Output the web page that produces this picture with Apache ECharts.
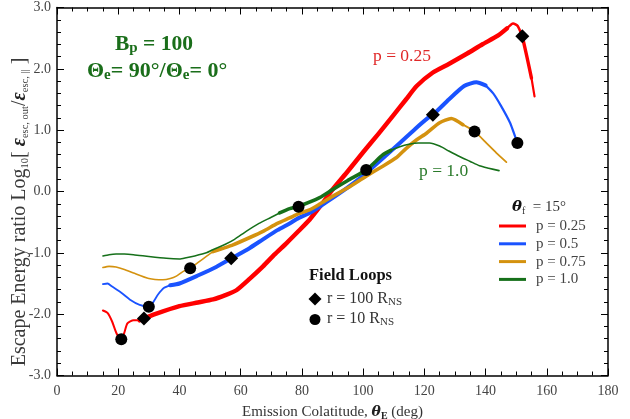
<!DOCTYPE html>
<html><head><meta charset="utf-8">
<script src="https://cdn.jsdelivr.net/npm/echarts@6/dist/echarts.min.js"></script>
<style>html,body{margin:0;padding:0;background:#fff}#c{width:630px;height:419px}</style>
</head><body><div id="c"></div>
<script>
// ---- data ----
const curveNames = ['p = 0.25', 'p = 0.5', 'p = 0.75', 'p = 1.0'];
const p025 = [[15,-1.94],[16.5,-1.98],[18,-2.12],[19.5,-2.32],[21,-2.41],[22,-2.3],[23,-2.15],[25,-2.1],[27,-2.1],[28.4,-2.07],[32,-2.0],[40,-1.87],[46,-1.81],[51,-1.76],[55,-1.69],[58.6,-1.61],[63,-1.42],[67.3,-1.22],[71,-1.03],[75,-0.84],[79,-0.64],[82.5,-0.46],[86,-0.24],[90,0.03],[95,0.33],[100,0.64],[105,0.94],[110,1.25],[114,1.5],[117.5,1.72],[122.8,1.94],[128,2.08],[134,2.25],[139,2.4],[144,2.54],[147,2.66],[149,2.74],[150.5,2.7],[152,2.53],[153.5,2.2],[155,1.85],[156,1.55]];
const p050 = [[15,-1.51],[16.5,-1.5],[18,-1.55],[21,-1.65],[24,-1.77],[27,-1.85],[30,-1.88],[31.5,-1.8],[33,-1.68],[35,-1.57],[37,-1.53],[40,-1.5],[46,-1.37],[52,-1.23],[57,-1.09],[63,-0.92],[67.3,-0.78],[72,-0.63],[76,-0.52],[79,-0.43],[82.5,-0.35],[86,-0.24],[92,-0.04],[97,0.14],[101,0.3],[106,0.52],[112,0.79],[117,1.02],[121.2,1.2],[123,1.26],[128,1.5],[133,1.72],[137,1.78],[140,1.73],[142.5,1.6],[145,1.4],[148,1.12],[150.4,0.79]];
const p075 = [[15,-1.24],[17,-1.22],[19.3,-1.23],[22,-1.27],[25,-1.33],[30,-1.42],[34.6,-1.44],[37,-1.42],[39,-1.38],[41,-1.31],[43.5,-1.25],[46,-1.16],[49,-1.05],[51,-0.98],[54,-0.93],[57.5,-0.87],[63,-0.75],[67.3,-0.65],[72,-0.52],[76,-0.43],[79,-0.36],[82.5,-0.3],[86,-0.2],[90,-0.08],[95,0.06],[101,0.25],[106,0.4],[110.8,0.55],[114,0.7],[117.4,0.84],[120.7,0.95],[125,1.12],[128.8,1.19],[132.6,1.09],[136.4,0.98],[140.3,0.79],[143.5,0.63],[146.8,0.48]];
const p100 = [[15,-1.05],[17,-1.03],[19.3,-1.02],[22,-1.02],[25,-1.03],[30,-1.06],[35.7,-1.09],[40,-1.1],[42.2,-1.08],[45,-1.05],[48.8,-1.0],[50.9,-0.95],[55,-0.86],[58,-0.78],[61.8,-0.65],[66,-0.52],[70,-0.42],[72.7,-0.35],[76,-0.28],[79,-0.24],[85.8,-0.1],[90,0.03],[95,0.18],[101,0.35],[106.5,0.6],[109,0.67],[112,0.73],[115,0.77],[118,0.79],[121.7,0.79],[125,0.74],[128,0.66],[131.5,0.57],[135,0.49],[138,0.42],[141,0.38],[144.4,0.34]];
const loops100 = [[28.4,-2.07],[56.9,-1.09],[122.8,1.25],[152,2.53]];
const loops10 = [[21,-2.41],[30,-1.88],[43.5,-1.25],[78.9,-0.25],[101,0.35],[136.4,0.98],[150.4,0.79]];
const xTickValues = [0,20,40,60,80,100,120,140,160,180];
const yTickValues = [-3,-2,-1,0,1,2,3];

// ---- style ----
const colors = ['#ff0000', '#1a53ff', '#d4920f', '#16701a'];
// width profile per curve: [x where width starts, width]
const widthSpecs = [
  [[15,2],[27,4.5],[147,2.6],[152,3.4],[154.8,2.2]],
  [[15,1.8],[37,4],[140,2.2]],
  [[15,1.6],[51,3.6],[129,1.8]],
  [[15,1.5],[72.7,3.6],[107.6,1.6]]
];
const curves = [p025, p050, p075, p100];
const serif = 'Liberation Serif';

function segments(pts, spec) {
  const out = [];
  for (let i = 0; i < spec.length; i++) {
    const a = spec[i][0], b = i + 1 < spec.length ? spec[i + 1][0] : Infinity;
    const seg = pts.filter(p => p[0] >= a && p[0] < b);
    const nxt = pts.find(p => p[0] >= b);
    if (nxt) seg.push(nxt);
    if (seg.length > 1) out.push({ data: seg, w: spec[i][1] });
  }
  return out;
}

const series = [];
curves.forEach((pts, ci) => {
  segments(pts, widthSpecs[ci]).forEach(s => {
    series.push({
      type: 'line', name: curveNames[ci], data: s.data, showSymbol: false,
      smooth: 0.2, lineStyle: { color: colors[ci], width: s.w, cap: 'round', join: 'round' },
      itemStyle: { color: colors[ci] }, z: 2, silent: true
    });
  });
});
series.push({ type: 'scatter', name: 'r100', data: loops100, symbol: 'diamond', symbolSize: 14, itemStyle: { color: '#000', opacity: 1 }, z: 10, silent: true });
series.push({ type: 'scatter', name: 'r10', data: loops10, symbol: 'circle', symbolSize: 12, itemStyle: { color: '#000', opacity: 1 }, z: 10, silent: true });

const axisBase = (showLabel) => ({
  axisLine: { onZero: false, lineStyle: { color: '#000', width: 1.5 } },
  axisTick: { inside: true, length: 7, lineStyle: { color: '#000', width: 1 } },
  splitLine: { show: false },
  axisLabel: { show: showLabel }
});
const subStyle = (size, extra) => Object.assign({ fontFamily: serif, fontSize: size, lineHeight: size, verticalAlign: 'bottom', fill: '#333' }, extra || {});

const option = {
  animation: false,
  grid: { left: 57, right: 22, top: 7.5, bottom: 43.5, containLabel: false, outerBoundsMode: 'none' },
  xAxis: [
    Object.assign(axisBase(true), {
      type: 'value', min: 0, max: 180, interval: 20, position: 'bottom',
      minorTick: { show: true, splitNumber: 4, length: 4, lineStyle: { color: '#000' } },
      axisLabel: { fontFamily: serif, fontSize: 14, color: '#444', margin: 9, customValues: xTickValues },
      name: 'Emission Colatitude, {th|θ}{sb|E} (deg)', nameLocation: 'middle', nameGap: 27,
      nameTextStyle: { fontFamily: serif, fontSize: 15, color: '#333', lineHeight: 18,
        rich: { th: { fontFamily: 'DejaVu Serif', fontWeight: 'bold', fontStyle: 'italic', fontSize: 14, color: '#222', lineHeight: 18 },
                sb: { fontFamily: serif, fontWeight: 'bold', fontSize: 10, lineHeight: 10, verticalAlign: 'bottom', color: '#222' } } }
    }),
    Object.assign(axisBase(false), {
      type: 'value', min: 0, max: 180, interval: 20, position: 'top',
      minorTick: { show: true, splitNumber: 4, length: 4, lineStyle: { color: '#000' } }
    })
  ],
  yAxis: [
    Object.assign(axisBase(true), {
      type: 'value', min: -3, max: 3, interval: 1, position: 'left',
      minorTick: { show: true, splitNumber: 5, length: 4, lineStyle: { color: '#000' } },
      axisLabel: { fontFamily: serif, fontSize: 14, color: '#444', margin: 6, formatter: v => v.toFixed(1), customValues: yTickValues }
    }),
    Object.assign(axisBase(false), {
      type: 'value', min: -3, max: 3, interval: 1, position: 'right',
      minorTick: { show: true, splitNumber: 5, length: 4, lineStyle: { color: '#000' } }
    })
  ],
  legend: {
    data: curveNames, orient: 'vertical', left: 494, top: 213,
    icon: 'rect', itemWidth: 27, itemHeight: 3, itemGap: 1.8,
    textStyle: { fontFamily: serif, fontSize: 15, color: '#444', lineHeight: 16, padding: [0, 0, 0, 5] },
    selectedMode: false
  },
  graphic: [
    { type: 'text', x: 20, y: 212, rotation: Math.PI / 2, style: {
      text: 'Escape Energy ratio Log{s|10}[ {e|ε}{s|esc, out}/{e|ε}{s|esc, ||} ]',
      fontFamily: serif, fontSize: 20, fill: '#3a3a3a', lineHeight: 22, align: 'center', verticalAlign: 'middle',
      rich: { s: subStyle(10.5, { lineHeight: 10, fill: '#3a3a3a' }), e: { fontFamily: serif, fontStyle: 'italic', fontWeight: 'bold', fontSize: 20, fill: '#222', lineHeight: 22 } } } },
    { type: 'text', left: 115, top: 32, style: { text: 'B{s|p} = 100', fontFamily: serif, fontWeight: 'bold', fontSize: 21.5, fill: '#1a6e1a', lineHeight: 24,
      rich: { s: subStyle(15, { fontWeight: 'bold', fill: '#1a6e1a', lineHeight: 14 }) } } },
    { type: 'text', left: 87, top: 59, style: { text: 'Θ{s|e}= 90°/Θ{s|e}= 0°', fontFamily: serif, fontWeight: 'bold', fontSize: 22, fill: '#1a6e1a', lineHeight: 24,
      rich: { s: subStyle(15, { fontWeight: 'bold', fill: '#1a6e1a', lineHeight: 14 }) } } },
    { type: 'text', left: 373, top: 47, style: { text: 'p = 0.25', fontFamily: serif, fontSize: 17.5, fill: '#e02828' } },
    { type: 'text', left: 419, top: 162, style: { text: 'p = 1.0', fontFamily: serif, fontSize: 17.5, fill: '#2a7a2a' } },
    { type: 'text', left: 512, top: 198, style: { text: '{t|θ}{s|f}  = 15°', fontFamily: serif, fontSize: 15, fill: '#333', lineHeight: 18,
      rich: { t: { fontFamily: 'DejaVu Serif', fontWeight: 'bold', fontStyle: 'italic', fontSize: 15, fill: '#111', lineHeight: 18 },
              s: subStyle(10) } } },
    { type: 'text', left: 309, top: 267, style: { text: 'Field Loops', fontFamily: serif, fontWeight: 'bold', fontSize: 16.5, fill: '#111' } },
    { type: 'polygon', shape: { points: [[315, 292.5], [321.5, 299], [315, 305.5], [308.5, 299]] }, style: { fill: '#000' } },
    { type: 'circle', shape: { cx: 315, cy: 319.5, r: 5.5 }, style: { fill: '#000' } },
    { type: 'text', left: 327, top: 289, style: { text: 'r = 100 R{s|NS}', fontFamily: serif, fontSize: 16, fill: '#333', lineHeight: 19, rich: { s: subStyle(11) } } },
    { type: 'text', left: 327, top: 309, style: { text: 'r = 10 R{s|NS}', fontFamily: serif, fontSize: 16, fill: '#333', lineHeight: 19, rich: { s: subStyle(11) } } }
  ],
  series: series
};
const chart = echarts.init(document.getElementById('c'), null, { renderer: 'canvas' });
chart.setOption(option);
</script></body></html>
